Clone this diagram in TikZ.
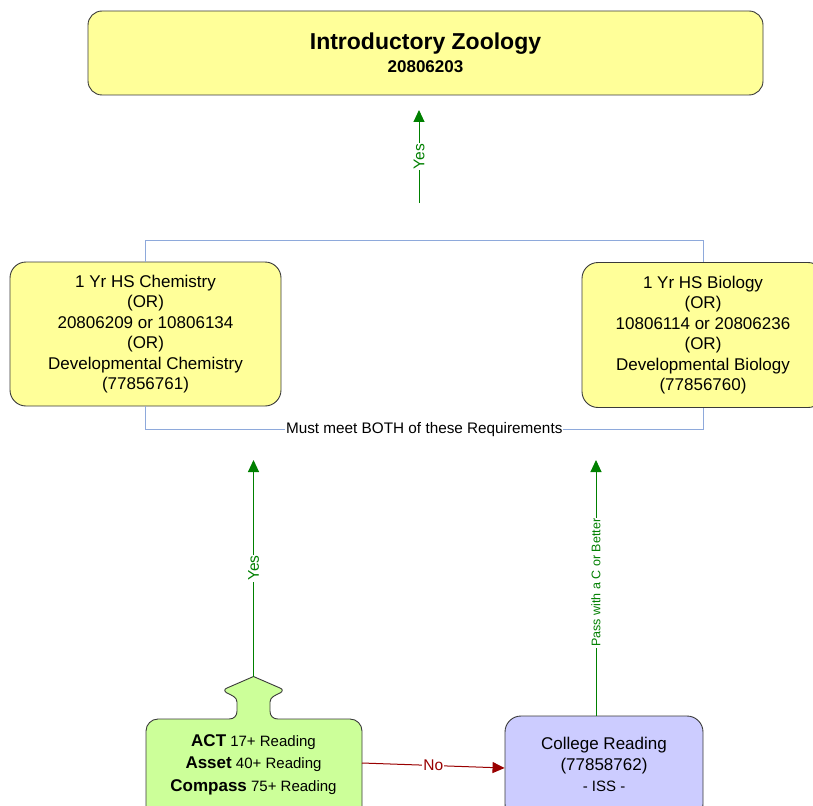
\documentclass[tikz,border=0pt]{standalone}
\usepackage{fontspec}
\setmainfont{Liberation Sans}
\usetikzlibrary{arrows.meta}
\definecolor{boxyellow}{HTML}{FFFF99}
\definecolor{boxgreen}{HTML}{CCFF99}
\definecolor{boxblue}{HTML}{CCCCFF}
\definecolor{linegreen}{HTML}{008000}
\definecolor{linered}{HTML}{990000}
\definecolor{bracketblue}{HTML}{8EA9DB}
\definecolor{edgegray}{HTML}{3A3A3A}
\tikzset{
  course/.style={draw=edgegray, line width=0.9pt, fill=boxyellow, rounded corners=16pt, align=center, inner sep=0pt},
  yesline/.style={draw=linegreen, line width=1pt, -{Triangle[length=12pt,width=11pt]}},
  noline/.style={draw=linered, line width=1pt, -{Triangle[length=12pt,width=11pt]}},
  lbl/.style={fill=white, inner sep=1pt, font=\fontsize{15.5}{17}\selectfont},
  bracket/.style={draw=bracketblue, line width=1pt},
}
\begin{document}
\begin{tikzpicture}[x=1pt,y=-1pt]
\useasboundingbox (0,0) rectangle (813,805);
% top course
\node[course, minimum width=675pt, minimum height=84pt, rounded corners=14pt] (top) at (425.5,53) {};
\node[anchor=base] (toptitle) at (425.5,50) {\fontsize{23}{26}\selectfont\bfseries Introductory Zoology};
\node[anchor=base] (topnum) at (425.5,73) {\fontsize{17}{20}\selectfont\bfseries 20806203};
% requirement boxes
\node[course, minimum width=271pt, minimum height=144pt, font=\fontsize{17}{20.5}\selectfont] (chem) at (145.5,334)
  {1 Yr HS Chemistry\\(OR)\\20806209 or 10806134\\(OR)\\Developmental Chemistry\\(77856761)};
\node[course, minimum width=242pt, minimum height=145pt, font=\fontsize{17}{20.5}\selectfont] (bio) at (703,335)
  {1 Yr HS Biology\\(OR)\\10806114 or 20806236\\(OR)\\Developmental Biology\\(77856760)};
% bracket
\draw[bracket] (chem.north) -- ++(0,-21) -| (bio.north);
\draw[bracket] (chem.south) -- ++(0,23) -| node[pos=0.25, fill=white, inner sep=1pt, text=black, font=\fontsize{15.3}{17}\selectfont] (req) {Must meet BOTH of these Requirements} (bio.south);
% top yes
\coordinate (yA) at (419,203);
\coordinate (yB) at (419,110);
\draw[yesline] (yA) -- node[lbl, rotate=90, text=linegreen] (yes1) {Yes} (yB);
% green placement shape
\draw[draw=edgegray, line width=0.9pt, fill=boxgreen] (146,815) -- (146,731)
  .. controls (146,724.4) and (151.4,719) .. (158,719) -- (229,719)
  .. controls (234,719) and (237,716) .. (237,711) -- (237,702)
  .. controls (237,697) and (231,695) .. (227,693)
  .. controls (224,691.5) and (224,689) .. (227,688) -- (253.5,676.5) -- (280,688)
  .. controls (283,689) and (283,691.5) .. (280,693)
  .. controls (276,695) and (270,697) .. (270,702) -- (270,711)
  .. controls (270,716) and (273,719) .. (278,719) -- (350,719)
  .. controls (356.6,719) and (362,724.4) .. (362,731) -- (362,815);
\node[align=center, font=\fontsize{15}{22.5}\selectfont] (placement) at (253.5,764.5)
  {{\fontsize{17}{22.5}\selectfont\bfseries ACT} 17+ Reading\\
   {\fontsize{17}{22.5}\selectfont\bfseries Asset} 40+ Reading\\
   {\fontsize{17}{22.5}\selectfont\bfseries Compass} 75+ Reading};
\coordinate (gtip) at (253.5,676.5);
\coordinate (gright) at (362,763);
% college reading
\node[draw=edgegray, line width=0.9pt, fill=boxblue, rounded corners=16pt, minimum width=198pt, minimum height=104pt] (college) at (604,768) {};
\node[align=center, font=\fontsize{17}{21}\selectfont] (coltext) at (604,764)
  {College Reading\\(77858762)\\{\fontsize{15}{19}\selectfont - ISS -}};
% connectors
\coordinate (yC) at (253.5,460);
\draw[yesline] (gtip) -- node[lbl, rotate=90, text=linegreen] (yes2) {Yes} (yC);
\coordinate (pC) at (596,460);
\draw[yesline] (pC |- college.north) -- node[lbl, rotate=90, text=linegreen, font=\fontsize{12.5}{14}\selectfont, pos=0.52] (pass) {Pass with a C or Better} (pC);
\draw[noline] (gright) -- node[lbl, text=linered] (no) {No} (college.west);
\end{tikzpicture}
\end{document}
